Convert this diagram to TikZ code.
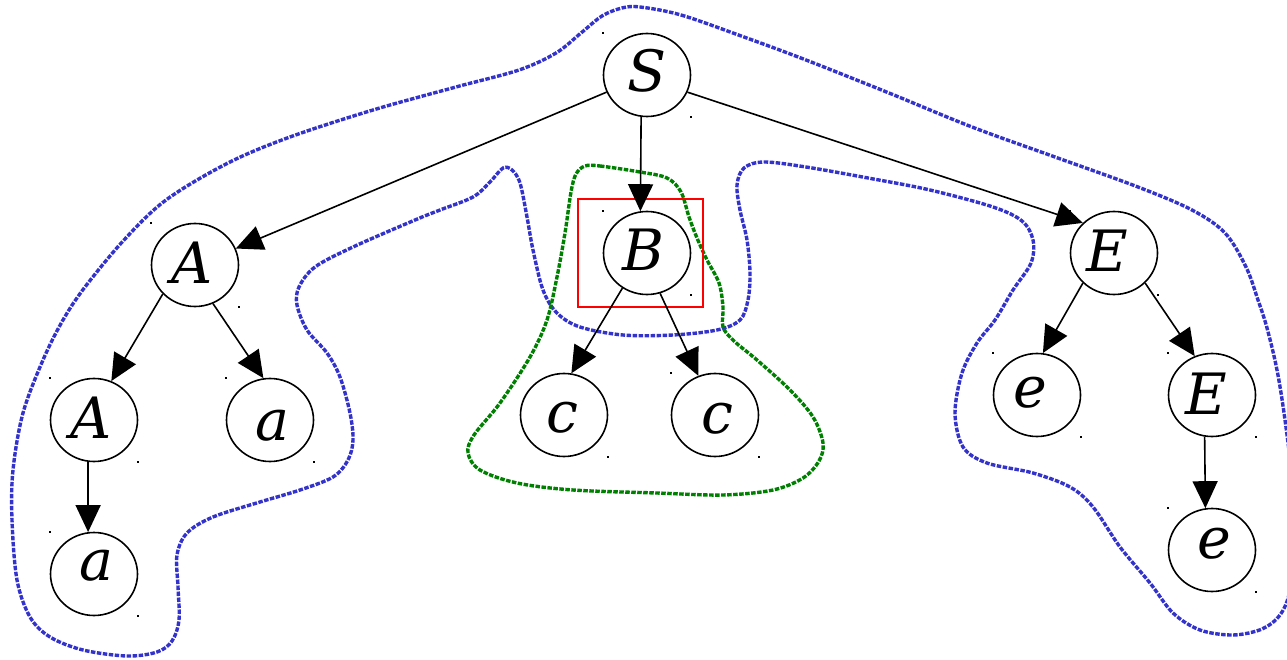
\documentclass[tikz,border=0pt]{standalone}
\usepackage{fontspec}
\newfontfamily\treefont{DejaVu Serif}
\usetikzlibrary{shapes.geometric,arrows.meta}

\definecolor{hullblue}{RGB}{51,51,204}
\definecolor{hullgreen}{RGB}{0,128,0}

% glyph shifted by #1 (right) and #2 (up) from the node centre
\newcommand\lbl[3]{\makebox[0pt]{\kern#1pt\raisebox{#2pt}{#3}\kern-#1pt}}

\tikzset{
  treenode/.style={ellipse, draw, line width=1.6pt, minimum width=87pt,
    minimum height=83pt, inner sep=0pt, text height=0pt, text depth=0pt,
    font=\treefont\itshape\fontsize{57}{57}\selectfont},
  edge/.style={line width=1.6pt, -{Triangle[length=27pt,width=25pt]}},
  corner/.style={fill=black, minimum size=2.2pt, inner sep=0pt, rectangle},
  hull/.style={line width=3.4pt, dash pattern=on 4.5pt off 1.5pt, line cap=butt},
}

\begin{document}
\begin{tikzpicture}[x=1pt,y=-1pt]
\useasboundingbox (0,0) rectangle (1287,660);

% corner marks of the node boxes
\foreach \cx/\cy [count=\i] in {647/75,195/265,647/253,1114/253,94/420,270/420,
    564/415,715/415,1037/395,1212/395,94/574,1212/550}{
  \node[corner] (ul\i) at (\cx-44,\cy-42) {};
  \node[corner] (lr\i) at (\cx+44,\cy+42) {};
}

% outer (blue) hull
\draw[hull, hullblue] plot[smooth cycle, tension=0.55] coordinates {
  (640,7) (681,15) (744,37) (806,60) (889,93) (972,127) (1055,157) (1138,187)
  (1192,210) (1225,233) (1246,267) (1258,300) (1267,328) (1277,370) (1285,420)
  (1292,480) (1294,540) (1290,590) (1280,615) (1262,629) (1233,635) (1200,630)
  (1173,613) (1150,583) (1120,547) (1093,507) (1070,487) (1033,473) (987,463)
  (963,447) (955,413) (962,373) (977,343) (995,320) (1013,290) (1031,263)
  (1033,240) (1022,221) (993,207) (930,190) (868,178) (806,167) (764,162)
  (744,168) (737,185) (740,210) (747,240) (750,273) (748,300) (740,320)
  (717,330) (673,335) (623,335) (580,327) (557,313) (543,290) (533,250)
  (527,217) (520,183) (512,170) (503,168) (490,182) (473,197) (440,210)
  (415,220) (353,247) (315,267) (299,287) (297,305) (307,330) (327,353)
  (340,377) (350,413) (353,440) (348,460) (333,477) (300,490) (260,502)
  (213,517) (187,533) (177,555) (178,587) (179,620) (172,641) (157,652)
  (127,656) (83,650) (50,637) (30,617) (17,580) (12,520) (13,470) (23,413)
  (43,360) (63,320) (85,287) (124,240) (166,200) (228,163) (290,137)
  (373,110) (456,87) (519,70) (556,53) (581,33) (602,16) (622,8)};

% inner (green) hull
\draw[hull, hullgreen] plot[smooth cycle, tension=0.55] coordinates {
  (585,166) (600,166) (640,172) (667,178) (681,192) (689,217) (697,238)
  (707,260) (719,283) (723,307) (723,327) (734,341) (757,360) (790,390)
  (813,417) (823,443) (819,461) (803,478) (773,490) (723,495) (657,493)
  (573,490) (517,483) (480,470) (468,453) (474,435) (500,403) (530,357)
  (547,320) (557,277) (565,233) (571,192) (576,174)};

% highlight box round B
\draw[red, line width=1.6pt] (578,199) rectangle (703,307);

% tree nodes
\node[treenode] (S)  at (647,75)   {\lbl{0}{-16.5}{S}};
\node[treenode] (A1) at (195,265)  {\lbl{-3}{-19}{A}};
\node[treenode] (B)  at (647,253)  {\lbl{-4}{-18}{B}};
\node[treenode] (E1) at (1114,253) {\lbl{-7}{-19}{E}};
\node[treenode] (A2) at (94,420)   {\lbl{-3}{-18}{A}};
\node[treenode] (a1) at (270,420)  {\lbl{2}{-20}{a}};
\node[treenode] (c1) at (564,415)  {\lbl{-1.5}{-17}{c}};
\node[treenode] (c2) at (715,415)  {\lbl{2.5}{-18}{c}};
\node[treenode] (e1) at (1037,395) {\lbl{-7}{-12}{e}};
\node[treenode] (E2) at (1212,395) {\lbl{-6}{-19.5}{E}};
\node[treenode] (a2) at (94,574)   {\lbl{2}{-6.5}{a}};
\node[treenode] (e2) at (1212,550) {\lbl{2}{-8}{e}};

% edges
\draw[edge] (S.203)  -- (A1.22);
\draw[edge] (S.262)  -- (B.99);
\draw[edge] (S.337)  -- (E1.136);
\draw[edge] (A1.222) -- (A2.66);
\draw[edge] (A1.295) -- (a1.99);
\draw[edge] (A2.262) -- (a2.98);
\draw[edge] (B.235)  -- (c1.80);
\draw[edge] (B.288)  -- (c2.113);
\draw[edge] (E1.224) -- (e1.82);
\draw[edge] (E1.316) -- (E2.114);
\draw[edge] (E2.260) -- (e2.99);
\end{tikzpicture}
\end{document}
